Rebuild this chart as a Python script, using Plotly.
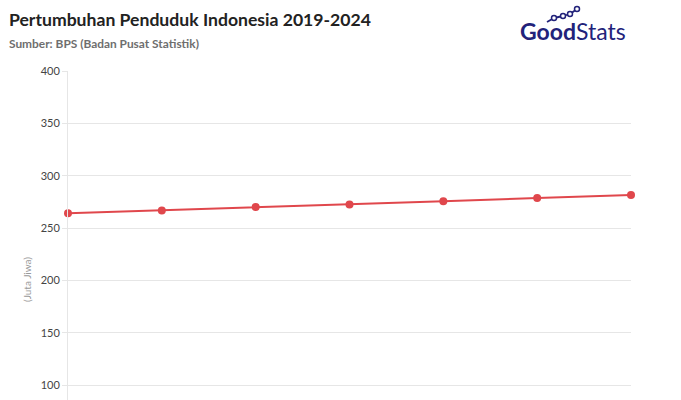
import plotly.graph_objects as go

years = [2018, 2019, 2020, 2021, 2022, 2023, 2024]
population = [264.16, 266.91, 270.20, 272.68, 275.77, 278.70, 281.60]
y_ticks = [100, 150, 200, 250, 300, 350, 400]

title_text = "Pertumbuhan Penduduk Indonesia 2019-2024"
subtitle_text = "Sumber: BPS (Badan Pusat Statistik)"
y_title = "(Juta Jiwa)"

RED = "#e0474c"
GRID = "#e6e6e6"
NAVY = "#22227a"

fig = go.Figure()
fig.add_trace(go.Scatter(
    x=years, y=population, mode="lines+markers",
    line=dict(color=RED, width=2),
    marker=dict(color=RED, size=8),
    cliponaxis=False, showlegend=False,
))

W, H = 681, 400
L, R, T, B = 68, 50, 71, 0

fig.update_layout(
    width=W, height=H,
    margin=dict(l=L, r=R, t=T, b=B),
    paper_bgcolor="white", plot_bgcolor="white",
    font=dict(family="Lato, sans-serif", color="#333333"),
    xaxis=dict(range=[years[0], years[-1]], showgrid=False, zeroline=False,
               showline=False, showticklabels=False, ticks="", automargin=False,
               fixedrange=True),
    yaxis=dict(range=[86, 400], tickvals=y_ticks, showgrid=True, gridcolor=GRID,
               gridwidth=1, zeroline=False, showline=True, linecolor=GRID,
               linewidth=1, ticks="outside", ticklen=5, tickcolor=GRID,
               tickfont=dict(size=11, color="#444444", family="Lato, sans-serif"),
               automargin=False, fixedrange=True),
)

# Title and subtitle
fig.add_annotation(text="<b>" + title_text + "</b>", xref="paper", yref="paper",
                   x=0, y=1, xshift=-L + 7, yshift=T - 7, xanchor="left", yanchor="top",
                   showarrow=False, font=dict(size=17.6, color="#222222", family="Lato, sans-serif"))
fig.add_annotation(text="<b>" + subtitle_text + "</b>", xref="paper", yref="paper",
                   x=0, y=1, xshift=-L + 7, yshift=T - 34, xanchor="left", yanchor="top",
                   showarrow=False, font=dict(size=11.9, color="#6e6e6e", family="Lato, sans-serif"))

# Y axis title
fig.add_annotation(text=y_title, xref="paper", yref="paper",
                   x=0, y=(H - 280) / (H - T - B), xshift=-41, textangle=-90,
                   xanchor="center", yanchor="middle", showarrow=False,
                   font=dict(size=10, color="#999999", family="Lato, sans-serif"))

# Logo
fig.add_annotation(text="<b>Good</b>Stats", xref="paper", yref="paper",
                   x=1, y=1, xshift=R - 53, yshift=T - 15, xanchor="right", yanchor="top",
                   showarrow=False,
                   font=dict(size=23, color=NAVY, family="Lato, sans-serif"))

def px_to_paper(px, py):
    return (px - L) / (W - L - R), (H - B - py) / (H - T - B)

icon_pts = [(547, 22), (554, 18), (563, 16), (570, 14), (577, 9)]
for (x0, y0), (x1, y1) in zip(icon_pts[:-1], icon_pts[1:]):
    a = px_to_paper(x0, y0); b = px_to_paper(x1, y1)
    fig.add_shape(type="line", xref="paper", yref="paper", x0=a[0], y0=a[1], x1=b[0], y1=b[1],
                  line=dict(color=NAVY, width=1.8), layer="above")
for (x, y) in icon_pts[1:]:
    a = px_to_paper(x - 2.5, y - 2.5); b = px_to_paper(x + 2.5, y + 2.5)
    fig.add_shape(type="circle", xref="paper", yref="paper", x0=a[0], y0=b[1], x1=b[0], y1=a[1],
                  line=dict(color=NAVY, width=1.5), fillcolor="white", layer="above")

fig.write_html("out.html", config={"displayModeBar": False, "staticPlot": True},
               post_script="document.body.style.margin='0';document.body.style.overflow='hidden';")
